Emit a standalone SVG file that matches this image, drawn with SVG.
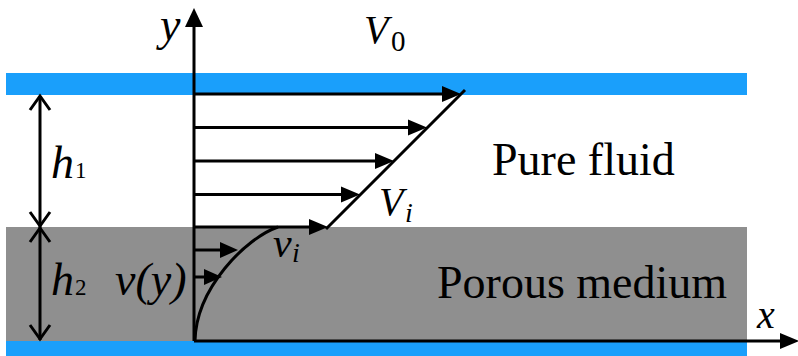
<svg xmlns="http://www.w3.org/2000/svg" width="798" height="356" viewBox="0 0 798 356">
<style>
.ln{stroke:#000;stroke-width:3;fill:none}
.hd{fill:#000;stroke:none}
.ch{stroke:#000;stroke-width:3;fill:none;stroke-linejoin:miter}
.it{font-style:italic;fill:#000}
.rm{fill:#000}
</style>
<rect width="798" height="356" fill="#fff"/>
<g id="layers">
<rect id="top-wall" x="6" y="73" width="741" height="22" fill="#1A9FFB"/>
<rect id="porous" x="6" y="227" width="741" height="114" fill="#8F8F8F"/>
<rect id="bottom-wall" x="6" y="341" width="741" height="15" fill="#1A9FFB"/>
</g>
<g id="connectors">
<line class="ln" x1="194" y1="341" x2="194" y2="24"/>
<polygon class="hd" points="194,8 185,27 203,27"/>
<line class="ln" x1="194" y1="341" x2="784" y2="341"/>
<polygon class="hd" points="799,341 780,333 780,349"/>
<line class="ln" x1="194" y1="94" x2="450" y2="94"/>
<polygon class="hd" points="461,94 442,86 442,102"/>
<line class="ln" x1="194" y1="127.5" x2="415" y2="127.5"/>
<polygon class="hd" points="427,127.5 408,119.5 408,135.5"/>
<line class="ln" x1="194" y1="161" x2="382" y2="161"/>
<polygon class="hd" points="394,161 375,153 375,169"/>
<line class="ln" x1="194" y1="194.5" x2="348" y2="194.5"/>
<polygon class="hd" points="360,194.5 341,186.5 341,202.5"/>
<line class="ln" x1="194" y1="227" x2="316" y2="227"/>
<polygon class="hd" points="328,227 309,219 309,235"/>
<line class="ln" x1="326" y1="229" x2="465" y2="90"/>
<line class="ln" x1="194" y1="250" x2="226" y2="250"/>
<polygon class="hd" points="238,250 220,242 220,258"/>
<line class="ln" x1="194" y1="277" x2="210" y2="277"/>
<polygon class="hd" points="222,277 204,269 204,285"/>
<path class="ln" d="M195,341 C196,288 246,238 278,227"/>
<line class="ln" x1="40" y1="96" x2="40" y2="340"/>
<polyline class="ch" points="30,110 40,96 50,110"/>
<polyline class="ch" points="30,212 40,226 50,212"/>
<polyline class="ch" points="30,242 40,228 50,242"/>
<polyline class="ch" points="30,325 40,339 50,325"/>
</g>
<g id="labels" font-family="'Liberation Serif', 'Times New Roman', 'DejaVu Serif', serif">
<text class="it" x="160" y="40" font-size="46">y</text>
<text class="it" x="364" y="43" font-size="40">V</text>
<text class="rm" x="391" y="51" font-size="29">0</text>
<text class="it" x="51" y="178" font-size="46">h</text>
<text class="rm" x="75" y="178" font-size="23">1</text>
<text class="it" x="51" y="295" font-size="46">h</text>
<text class="rm" x="75" y="295" font-size="23">2</text>
<text class="it" x="115" y="295" font-size="46">v(y)</text>
<text class="it" x="379" y="215" font-size="40">V</text>
<text class="it" x="405" y="222" font-size="28">i</text>
<text class="it" x="273" y="257" font-size="42">v</text>
<text class="it" x="292" y="262" font-size="28">i</text>
<text class="rm" x="492" y="175" font-size="46">Pure fluid</text>
<text class="rm" x="437" y="298" font-size="46">Porous medium</text>
<text class="it" x="757" y="328" font-size="40">x</text>
</g>
</svg>
